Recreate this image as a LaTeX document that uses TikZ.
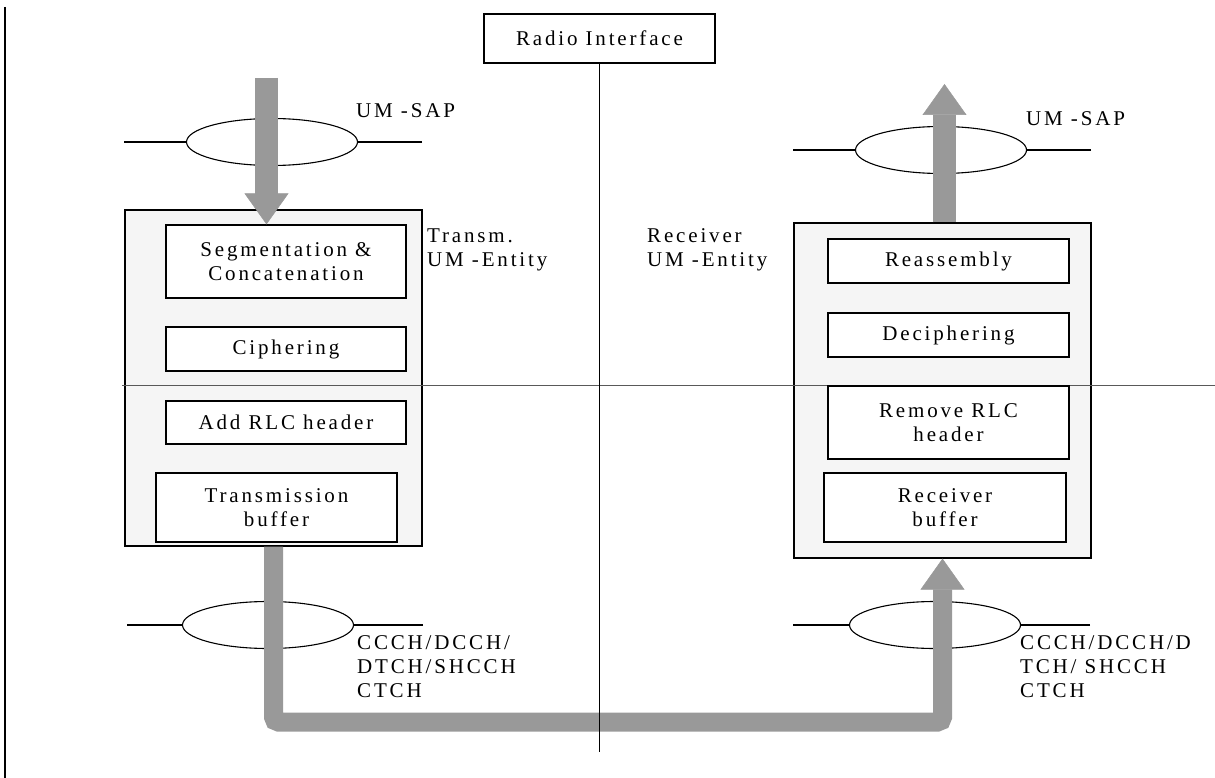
\documentclass[tikz,border=0pt]{standalone}
\usepackage{fontspec}
\setmainfont{Liberation Serif}[LetterSpace=13.5]
\usetikzlibrary{shapes.geometric,arrows.meta}
\tikzset{
	entity/.style={draw, line width=1.2pt, fill=gray!8, inner sep=0pt},
	func/.style={draw, line width=1.2pt, fill=white, align=center, inner sep=0pt},
	sap/.style={draw, ellipse, line width=1.1pt, inner sep=0pt, minimum width=171pt, minimum height=47pt},
	sapline/.style={line width=1.1pt},
	flow/.style={draw=black!40, line width=23pt, -{Triangle[width=44pt,length=31pt,line width=0.5pt]}},
	lbl/.style={anchor=west, align=left, inner sep=0pt},
}
\begin{document}
\begin{tikzpicture}[x=1pt, y=-1pt, font=\fontsize{21}{24}\selectfont]
		\useasboundingbox (0,0) rectangle (1215,778);

		\coordinate (edgeTop) at (5,7);
		\coordinate (edgeBot) at (5,778);
		\draw[line width=2pt] (edgeTop) -- (edgeBot);

		\node[draw, line width=1.2pt, minimum width=231pt, minimum height=49pt] (radio) at (599.5,38.5) {Radio Interface};
		\coordinate (radioEnd) at (599.5,752);

		\node[sap] (sapTx) at (272,142) {};
		\coordinate (sapTxL) at (124,142);
		\coordinate (sapTxR) at (422,142);
		\node[sap] (sapRx) at (941,150) {};
		\coordinate (sapRxL) at (793,150);
		\coordinate (sapRxR) at (1091,150);
		\node[sap] (chTx) at (268,625) {};
		\coordinate (chTxL) at (127,625);
		\coordinate (chTxR) at (423,625);
		\node[sap] (chRx) at (935,625) {};
		\coordinate (chRxL) at (793,625);
		\coordinate (chRxR) at (1090,625);

		\path (sapTxL) edge[sapline] (sapTx);
		\path (sapTxR) edge[sapline] (sapTx);
		\path (sapRxL) edge[sapline] (sapRx);
		\path (sapRxR) edge[sapline] (sapRx);
		\path (chTxL) edge[sapline] (chTx);
		\path (chTxR) edge[sapline] (chTx);
		\path (chRxL) edge[sapline] (chRx);
		\path (chRxR) edge[sapline] (chRx);

		\node[entity, minimum width=297pt, minimum height=336pt] (txbox) at (273.5,378) {};
		\node[entity, minimum width=297pt, minimum height=335pt] (rxbox) at (942.5,390.5) {};

		\coordinate (levelL) at (122,385);
		\coordinate (levelR) at (1215,385);
		\draw[black!65, line width=1pt] (levelL) -- (levelR);

		\node[func, minimum width=240pt, minimum height=73pt] (seg) at (286,261.5) {Segmentation \&\\Concatenation};
		\node[func, minimum width=240pt, minimum height=44pt] (ciph) at (286,349) {Ciphering};
		\node[func, minimum width=240pt, minimum height=43pt] (addhdr) at (286,422.5) {Add RLC header};
		\node[func, minimum width=241pt, minimum height=69pt] (txbuf) at (276.5,507.5) {Transmission\\buffer};

		\node[func, minimum width=241pt, minimum height=44pt] (reasm) at (948.5,261) {Reassembly};
		\node[func, minimum width=241pt, minimum height=44pt] (deciph) at (948.5,335) {Deciphering};
		\node[func, minimum width=241pt, minimum height=73pt] (rmhdr) at (948.5,422.5) {Remove RLC\\header};
		\node[func, minimum width=242pt, minimum height=69pt] (rxbuf) at (945,507.5) {Receiver\\buffer};

		\coordinate (sduIn) at (266.5,78);
		\path (sduIn) edge[flow] (sduIn |- seg.north);
		\coordinate (sduOut) at (944.5,84);
		\path (rxbox.north -| sduOut) edge[flow] (sduOut);
		\coordinate (bend) at (600,722);
		\draw[flow, line width=19pt, rounded corners=5pt] (txbox.south) |- (bend) -| (rxbox.south);

		\path (radio) edge[line width=1.5pt] (radioEnd);

		\node[lbl] (sapTxLbl) at (356,111) {UM -SAP};
		\node[lbl] (sapRxLbl) at (1026,119) {UM -SAP};
		\node[lbl] (txLbl) at (427,250) {Transm.\\UM -Entity};
		\node[lbl] (rxLbl) at (647,250) {Receiver\\UM -Entity};
		\node[lbl] (chTxLbl) at (357,667) {CCCH/DCCH/\\DTCH/SHCCH\\CTCH};
		\node[lbl] (chRxLbl) at (1020,667) {CCCH/DCCH/D\\TCH/ SHCCH\\CTCH};
	\end{tikzpicture}
\end{document}
